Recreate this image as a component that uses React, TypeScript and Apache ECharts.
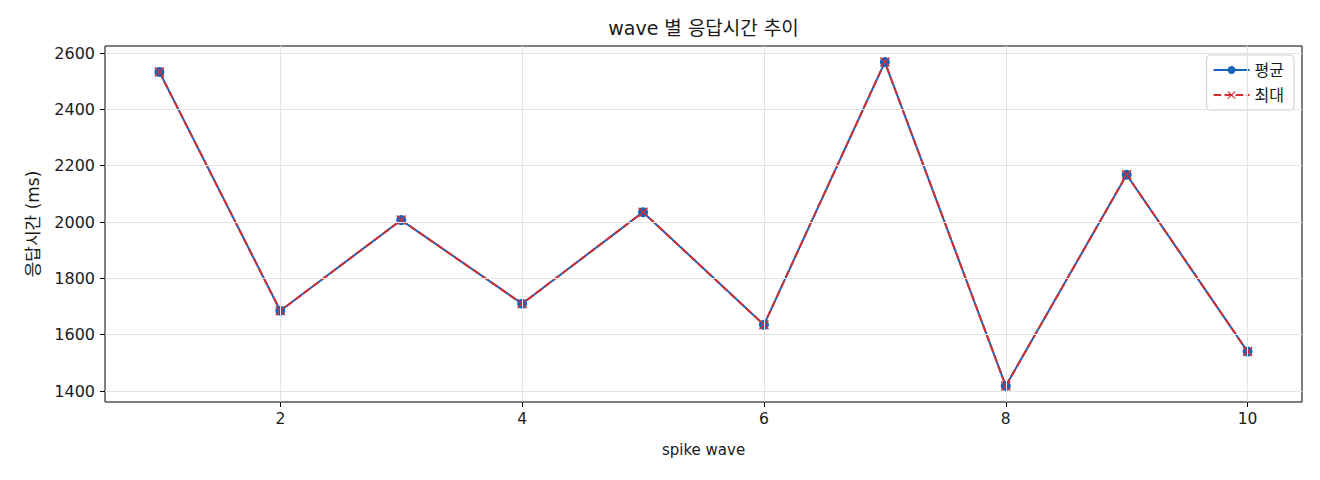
import React, { useEffect, useRef } from "react";
import * as echarts from "echarts";

const waves = [1, 2, 3, 4, 5, 6, 7, 8, 9, 10];
const avgValues = [2533, 1685, 2007, 1710, 2035, 1635, 2568, 1418, 2168, 1540];
const maxValues = [2533, 1685, 2007, 1710, 2035, 1635, 2568, 1418, 2168, 1540];
const xTicks = [2, 4, 6, 8, 10];
const yTicks = [1400, 1600, 1800, 2000, 2200, 2400, 2600];

const FONT = "'DejaVu Sans', 'Noto Sans CJK KR', sans-serif";
const TXT = "#1a1a1a";

export default function App() {
  const ref = useRef<HTMLDivElement>(null);
  useEffect(() => {
    document.body.style.margin = "0";
    if (!ref.current) return;
    const chart = echarts.init(ref.current, null, { renderer: "svg" });
    const gridLines = [
      ...xTicks.map((v) => ({ xAxis: v })),
      ...yTicks.map((v) => ({ yAxis: v })),
    ];
    const plain = (v: number) => String(v);
    chart.setOption({
      animation: false,
      textStyle: { fontFamily: FONT, color: TXT },
      title: {
        text: "wave 별 응답시간 추이",
        left: 703.5,
        textAlign: "center",
        top: 18,
        padding: 0,
        textStyle: { fontFamily: FONT, fontSize: 19, fontWeight: "normal", color: TXT },
      },
      grid: {
        left: 105,
        right: 18,
        top: 46,
        bottom: 78,
        show: true,
        borderColor: "#000000",
        borderWidth: 1,
        backgroundColor: "transparent",
      },
      legend: {
        right: 26,
        top: 55,
        orient: "vertical",
        backgroundColor: "#fff",
        borderColor: "#d0d0d0",
        borderWidth: 1,
        borderRadius: 4,
        padding: [7, 10, 7, 6],
        itemGap: 9,
        itemWidth: 36,
        itemHeight: 10,
        textStyle: { fontFamily: FONT, fontSize: 16, color: TXT },
        data: ["평균", "최대"],
      },
      xAxis: {
        type: "value",
        min: 0.55,
        max: 10.45,
        name: "spike wave",
        nameLocation: "middle",
        nameGap: 40,
        nameTextStyle: { fontFamily: FONT, fontSize: 15, color: TXT },
        axisLine: { show: false },
        axisTick: { show: true, inside: false, length: 5, customValues: xTicks, lineStyle: { color: "#000" } },
        axisLabel: { customValues: xTicks, formatter: plain, margin: 9, fontFamily: FONT, fontSize: 15.5, color: TXT },
        splitLine: { show: false },
      },
      yAxis: {
        type: "value",
        min: 1361,
        max: 2625,
        name: "응답시간 (ms)",
        nameLocation: "middle",
        nameGap: 64,
        nameTextStyle: { fontFamily: FONT, fontSize: 17, color: TXT },
        axisLine: { show: false },
        axisTick: { show: true, inside: false, length: 5, customValues: yTicks, lineStyle: { color: "#000" } },
        axisLabel: { customValues: yTicks, formatter: plain, margin: 10, fontFamily: FONT, fontSize: 16, color: TXT },
        splitLine: { show: false },
      },
      series: [
        {
          name: "grid",
          type: "line",
          data: [],
          silent: true,
          markLine: {
            silent: true,
            symbol: "none",
            label: { show: false },
            lineStyle: { color: "#e3e3e3", width: 1, type: "solid" },
            data: gridLines,
          },
        },
        {
          name: "평균",
          type: "line",
          data: waves.map((w, i) => [w, avgValues[i]]),
          symbol: "circle",
          symbolSize: 10,
          itemStyle: { color: "#1565c0" },
          lineStyle: { color: "#1565c0", width: 2 },
        },
        {
          name: "최대",
          type: "line",
          data: waves.map((w, i) => [w, maxValues[i]]),
          symbol: "path://M1,0L5,4L9,0L10,1L6,5L10,9L9,10L5,6L1,10L0,9L4,5L0,1Z",
          symbolSize: 10,
          itemStyle: { color: "#d32f2f", borderWidth: 0 },
          lineStyle: { color: "#d32f2f", width: 2, type: [7.7, 3.3] },
        },
      ],
    });
    return () => chart.dispose();
  }, []);
  return <div ref={ref} style={{ width: 1320, height: 480 }} />;
}
